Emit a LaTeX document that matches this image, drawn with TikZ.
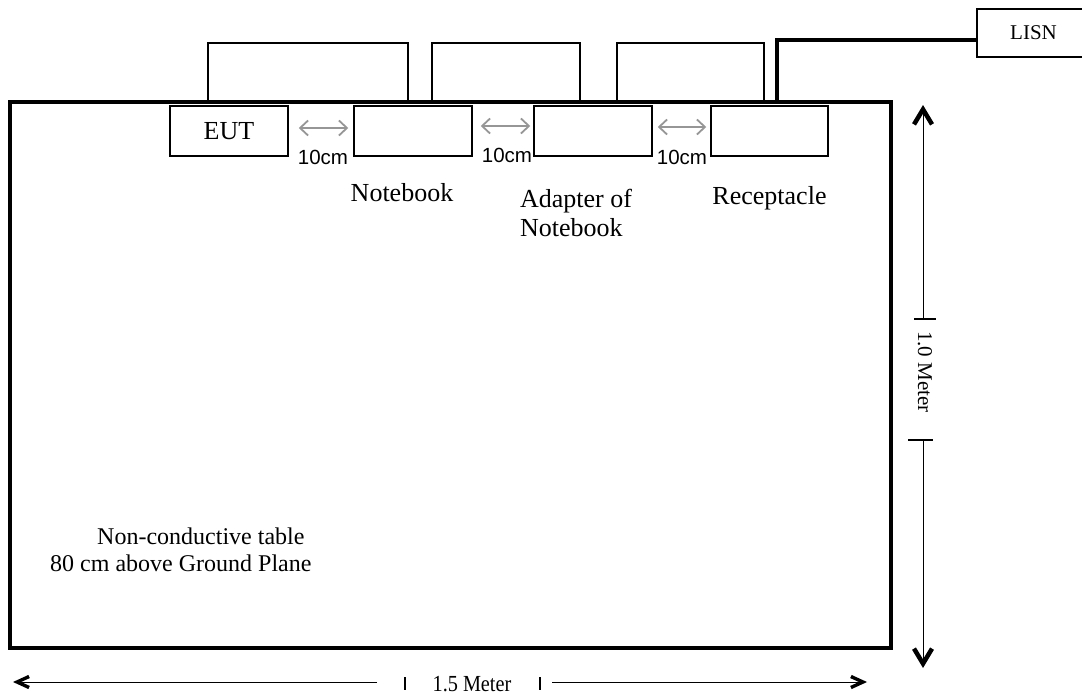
\documentclass[tikz,border=0pt]{standalone}
\usepackage{fontspec}
\setmainfont{Liberation Serif}
\newfontfamily\arialf{Liberation Sans}
\newfontfamily\condserif[FakeStretch=0.88]{Liberation Serif}
\usetikzlibrary{arrows.meta}
\definecolor{arrgray}{RGB}{150,150,150}
\begin{document}
\begin{tikzpicture}[x=1pt,y=-1pt,
  box/.style={draw, line width=1.5pt, inner sep=0pt, minimum height=50pt},
  topbox/.style={draw, line width=1.5pt, inner sep=0pt, minimum height=59pt},
  tablebox/.style={draw, line width=3.2pt, inner sep=0pt},
  lab/.style={inner sep=0pt, font=\fontsize{26}{29}\selectfont},
  tabtext/.style={inner sep=0pt, font=\fontsize{24}{28}\selectfont, anchor=west},
  cmlab/.style={inner sep=0pt, font=\arialf\fontsize{20.5}{24}\selectfont},
  dimlab/.style={inner sep=0pt, font=\fontsize{21}{25}\selectfont},
  wire/.style={line width=3.2pt},
  grayarr/.style={draw=arrgray, line width=1.8pt, {Straight Barb[length=8pt,width=15pt]}-{Straight Barb[length=8pt,width=15pt]}},
  dimv/.style={line width=1pt, -{Straight Barb[length=15pt,width=18pt,line width=4.5pt]}},
  dimh/.style={line width=1pt, -{Straight Barb[length=12pt,width=11pt,line width=3.4pt]}},
  tickbar/.style={line width=2pt}]
\useasboundingbox (0,0) rectangle (1082,696);

% table
\node[tablebox, minimum width=881pt, minimum height=546pt] (table) at (450.5,375) {};

% upper boxes
\node[topbox, minimum width=200pt] (top1) at (308,72.5) {};
\node[topbox, minimum width=148pt] (top2) at (506,72.5) {};
\node[topbox, minimum width=147pt] (top3) at (690.5,72.5) {};

% lower boxes
\node[box, minimum width=118pt, font=\fontsize{26}{29}\selectfont] (eut) at (229,131) {EUT};
\node[box, minimum width=118pt] (nb) at (413,131) {};
\node[box, minimum width=118pt] (adp) at (593,131) {};
\node[box, minimum width=117pt] (rec) at (769.5,131) {};

% LISN
\node[draw, line width=1.5pt, inner sep=0pt, minimum width=113pt, minimum height=48pt,
      font=\fontsize{21}{24}\selectfont] (lisn) at (1033.5,33) {LISN};
\coordinate (wj) at (777,103);
\draw[wire] ([yshift=-7pt]lisn.west) -| (wj);

% gray spacing arrows
\draw[grayarr] ([xshift=10pt,yshift=3pt]eut.east) -- ([xshift=-5pt,yshift=3pt]nb.west);
\draw[grayarr] ([xshift=8pt,yshift=5pt]nb.east) -- ([xshift=-3pt,yshift=5pt]adp.west);
\draw[grayarr] ([xshift=5pt,yshift=4pt]adp.east) -- ([xshift=-4pt,yshift=4pt]rec.west);
\node[cmlab] (cm1) at (323,157) {10cm};
\node[cmlab] (cm2) at (507,155) {10cm};
\node[cmlab] (cm3) at (682,157) {10cm};

% labels
\node[lab] (nblab) at (402,193) {Notebook};
\node[lab, align=left] (adplab) at (576,213) {Adapter of\\Notebook};
\node[lab] (reclab) at (769.5,198) {Receptacle};
\node[tabtext] (t1) at (97,536) {Non-conductive table};
\node[tabtext] (t2) at (50,563) {80 cm above Ground Plane};

% horizontal dimension
\coordinate (hL) at (13,682);
\coordinate (hLe) at (377,682);
\coordinate (hR) at (867,682);
\coordinate (hRe) at (552,682);
\draw[dimh] (hLe) -- (hL);
\draw[dimh] (hRe) -- (hR);
\coordinate (b1a) at (405,677); \coordinate (b1b) at (405,690);
\coordinate (b2a) at (540,677); \coordinate (b2b) at (540,690);
\draw[tickbar] (b1a) -- (b1b);
\draw[tickbar] (b2a) -- (b2b);
\node[inner sep=0pt, font=\condserif\fontsize{23}{26}\selectfont] (hlab) at (472,684) {1.5 Meter};

% vertical dimension
\coordinate (vT) at (923,105);
\coordinate (vTe) at (923,318);
\coordinate (vB) at (923,668);
\coordinate (vBe) at (923,440);
\draw[dimv] (vTe) -- (vT);
\draw[dimv] (vBe) -- (vB);
\coordinate (v1a) at (914,319); \coordinate (v1b) at (936,319);
\coordinate (v2a) at (908,440); \coordinate (v2b) at (933,440);
\draw[tickbar] (v1a) -- (v1b);
\draw[tickbar] (v2a) -- (v2b);
\node[dimlab, rotate=-90] (vlab) at (925,372) {1.0 Meter};
\end{tikzpicture}
\end{document}
